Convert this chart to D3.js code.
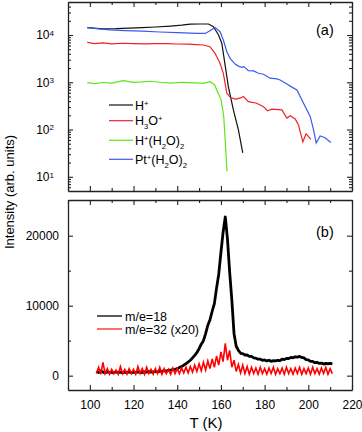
<!DOCTYPE html>
<html>
<head>
<meta charset="utf-8">
<script src="https://cdn.jsdelivr.net/npm/d3@7"></script>
<style>
  body { margin: 0; background: #fff; }
  text { font-family: "Liberation Sans", Arial, sans-serif; fill: #000; }
  .axis path, .axis line { stroke: #222; }
</style>
</head>
<body>
<script>
const w = 362;
const h = 432;

// panel (a): ion yields, log scale
const tH = [98.8, 106, 112, 118, 124, 130, 137, 142, 146, 150, 154.3, 156.6, 158.9, 160.4, 161.9, 163.4, 165.7, 168, 170];
const vH = [14300, 13500, 13600, 14000, 14400, 14800, 15500, 16200, 17000, 17100, 17100, 15000, 10000, 6700, 2330, 810, 260, 98, 32];

const tH3O = [98.8, 102, 106, 110, 115, 120, 125, 130, 135, 140, 145, 149, 152, 155, 157.3, 159.6, 161.1, 162.7, 164.2, 166.5, 168.8, 170.3, 172.6, 176.4, 179.5, 181.3, 183.3, 187.9, 190.2, 191.7, 194, 195.5, 197.5, 199, 201.2];
const vH3O = [7000, 6550, 6800, 6500, 6700, 6600, 6500, 6600, 6550, 6450, 6400, 6240, 6150, 5650, 4100, 2520, 1550, 590, 480, 440, 460, 500, 390, 360, 305, 250, 270, 260, 175, 195, 167, 125, 55, 81, 62];

const tHW = [98.8, 102, 106, 110, 115.3, 120, 124, 127.6, 132, 137, 142, 148, 152, 155, 157, 158.5, 160.1, 161.3, 162.8];
const vHW = [980, 940, 990, 960, 1080, 1000, 1020, 1050, 1000, 960, 1000, 970, 950, 1030, 900, 620, 425, 187, 13];

const tPt = [98.8, 104, 109, 116, 124, 132, 140, 149, 152.8, 155, 157.3, 159.6, 161.1, 162.7, 164.2, 166.5, 168, 169.6, 170.5, 172.6, 174.9, 177.2, 179.5, 182.5, 185.6, 187.1, 190.2, 192.5, 194.8, 197.8, 200.9, 202.4, 203.6, 205.4, 207.7, 210.3];
const vPt = [14300, 13500, 12800, 12400, 12150, 11600, 11200, 10800, 10800, 12300, 14500, 11750, 7840, 4440, 3210, 2430, 2200, 2070, 2140, 1760, 1740, 1550, 1480, 1220, 1180, 1120, 920, 790, 690, 360, 187, 98, 52, 73, 67, 53];

// panel (b): mass spec traces, one sample per K from 103 to 211
const tB = d3.range(103, 212);
const v18 = [600, 450, 700, 500, 400, 550, 450, 500, 400, 550, 450, 500, 400, 500, 450, 550, 400, 500, 450, 550,
  500, 450, 550, 500, 600, 500, 550, 600, 550, 650, 600, 700, 650, 750, 800, 850, 900, 1000, 1150, 1300,
  1500, 1700, 1950, 2200, 2550, 2900, 3300, 3850, 4500, 5000, 6000, 7200, 8000, 9200, 10300, 12500, 14500, 17600, 20500, 22700,
  19500, 14800, 10800, 6000, 4200, 3600, 3200, 3150, 2950, 2950, 2750, 2750, 2550, 2500, 2350, 2350, 2200, 2250, 2100, 2200,
  2050, 2150, 2100, 2200, 2150, 2350, 2300, 2450, 2450, 2600, 2550, 2700, 2650, 2750, 2600, 2550, 2300, 2250, 2050, 2050,
  1850, 1900, 1750, 1800, 1650, 1750, 1700, 1750, 1700];
const v32 = [300, 1200, 200, 1900, 300, 1000, 200, 900, 300, 800, 200, 1300, 300, 900, 200, 1000, 300, 900, 200, 1300,
  300, 1000, 200, 1200, 300, 900, 200, 1000, 300, 1200, 200, 1000, 300, 900, 200, 1100, 300, 1000, 300, 1100,
  400, 1200, 400, 1300, 500, 1500, 600, 1700, 700, 1900, 800, 2100, 1000, 2400, 1200, 2800, 1500, 3400, 2000, 4600,
  2200, 3600, 1200, 2200, 600, 1600, 400, 1500, 300, 1300, 200, 1200, 300, 1100, 200, 1200, 300, 1000, 200, 1100,
  300, 1200, 200, 1000, 300, 1100, 200, 1200, 300, 1000, 200, 1100, 300, 1200, 200, 1000, 300, 1100, 200, 1200,
  300, 1000, 200, 1100, 300, 1200, 200, 1000, 300];

const xTicks = [100, 120, 140, 160, 180, 200, 220];
const yTicksB = [0, 10000, 20000];

const svg = d3.select("body")
    .append("svg")
    .attr("width", w)
    .attr("height", h);

const left = 68, right = 352;
const aTop = 2, aBottom = 191;
const bTop = 200, bBottom = 390;

const xScale = d3.scaleLinear().domain([90, 220]).range([left, right]);
const yA = d3.scaleLog().domain([5, 50000]).range([aBottom, aTop]);
const yB = d3.scaleLinear().domain([-2050, 25100]).range([bBottom, bTop]);

const xMinor = d3.range(90, 221, 10).filter(d => d % 20 !== 0);
const logMajor = [10, 100, 1000, 10000];
const logMinor = [];
[1, 10, 100, 1000, 10000].forEach(p => {
    for (let k = 2; k < 10; k++) {
        const v = p * k;
        if (v > 5 && v < 50000) logMinor.push(v);
    }
});

function drawAxis(axis, transform) {
    const g = svg.append("g")
        .attr("class", "axis")
        .attr("transform", transform)
        .call(axis);
    g.select(".domain").attr("stroke-width", 1.3);
    g.selectAll(".tick line").attr("stroke-width", 1.1);
    g.selectAll("text").attr("font-size", 12).style("font-family", "Liberation Sans, Arial, sans-serif");
    return g;
}

function frameX(y0, y1, labels) {
    drawAxis(d3.axisBottom(xScale).tickValues(xTicks).tickSize(-5).tickSizeOuter(0).tickPadding(10)
        .tickFormat(labels ? d3.format("d") : ""), "translate(0," + y1 + ")");
    drawAxis(d3.axisBottom(xScale).tickValues(xMinor).tickSize(-3).tickSizeOuter(0).tickFormat(""), "translate(0," + y1 + ")")
        .select(".domain").remove();
    drawAxis(d3.axisTop(xScale).tickValues(xTicks).tickSize(-5).tickSizeOuter(0).tickFormat(""), "translate(0," + y0 + ")");
    drawAxis(d3.axisTop(xScale).tickValues(xMinor).tickSize(-3).tickSizeOuter(0).tickFormat(""), "translate(0," + y0 + ")")
        .select(".domain").remove();
}

// ---- panel (a)
frameX(aTop, aBottom, false);
const ga = drawAxis(d3.axisLeft(yA).tickValues(logMajor).tickSize(-5).tickSizeOuter(0).tickFormat(""), "translate(" + left + ",0)");
ga.selectAll(".tick").append("text")
    .attr("x", -14).attr("dy", "0.32em")
    .attr("text-anchor", "end")
    .attr("font-size", 12)
    .text("10")
    .append("tspan")
    .attr("dy", "-0.45em")
    .attr("font-size", 8)
    .text(d => Math.round(Math.log10(d)));
drawAxis(d3.axisLeft(yA).tickValues(logMinor).tickSize(-3).tickFormat(""), "translate(" + left + ",0)").select(".domain").remove();
drawAxis(d3.axisRight(yA).tickValues(logMajor).tickSize(-5).tickSizeOuter(0).tickFormat(""), "translate(" + right + ",0)");
drawAxis(d3.axisRight(yA).tickValues(logMinor).tickSize(-3).tickFormat(""), "translate(" + right + ",0)").select(".domain").remove();

const seriesA = [
    { t: tH, v: vH, color: "#111111", label: [["H", 0], ["+", -1]] },
    { t: tH3O, v: vH3O, color: "#f0202a", label: [["H", 0], ["3", 1], ["O", 0], ["+", -1]] },
    { t: tHW, v: vHW, color: "#5ee51e", label: [["H", 0], ["+", -1], ["(H", 0], ["2", 1], ["O)", 0], ["2", 1]] },
    { t: tPt, v: vPt, color: "#3a5af0", label: [["Pt", 0], ["+", -1], ["(H", 0], ["2", 1], ["O)", 0], ["2", 1]] }
];

const lineA = d3.line().x(d => xScale(d[0])).y(d => yA(d[1]));
seriesA.forEach(s => {
    svg.append("path")
        .datum(s.t.map((t, i) => [t, s.v[i]]))
        .attr("fill", "none")
        .attr("stroke", s.color)
        .attr("stroke-width", 1.2)
        .attr("d", lineA);
});

function richText(x, y, parts, size) {
    const t = svg.append("text").attr("x", x).attr("y", y).attr("font-size", size);
    let shift = 0;
    parts.forEach(p => {
        const target = p[1] * 0.3 * size;
        t.append("tspan")
            .attr("dy", target - shift)
            .attr("font-size", p[1] === 0 ? size : size * 0.62)
            .text(p[0]);
        shift = target;
    });
}

const legA = [105, 120.7, 140.3, 159.3];
seriesA.forEach((s, i) => {
    svg.append("line")
        .attr("x1", 109).attr("x2", 133)
        .attr("y1", legA[i]).attr("y2", legA[i])
        .attr("stroke", s.color).attr("stroke-width", 1.2);
    richText(135, legA[i] + 4.5, s.label, 12.5);
});

svg.append("text").attr("x", 316).attr("y", 35).attr("font-size", 14.5).text("(a)");

// ---- panel (b)
frameX(bTop, bBottom, true);
drawAxis(d3.axisLeft(yB).tickValues(yTicksB).tickSize(-5).tickSizeOuter(0).tickPadding(9).tickFormat(d3.format("d")), "translate(" + left + ",0)");
drawAxis(d3.axisLeft(yB).tickValues([5000, 15000]).tickSize(-3).tickFormat(""), "translate(" + left + ",0)").select(".domain").remove();
drawAxis(d3.axisRight(yB).tickValues(yTicksB).tickSize(-5).tickSizeOuter(0).tickFormat(""), "translate(" + right + ",0)");
drawAxis(d3.axisRight(yB).tickValues([5000, 15000]).tickSize(-3).tickFormat(""), "translate(" + right + ",0)").select(".domain").remove();

const lineB = d3.line().x(d => xScale(d[0])).y(d => yB(d[1]));
svg.append("path")
    .datum(tB.map((t, i) => [t, v18[i]]))
    .attr("fill", "none")
    .attr("stroke", "#000")
    .attr("stroke-width", 2.8)
    .attr("stroke-linejoin", "round")
    .attr("d", lineB);
svg.append("path")
    .datum(tB.map((t, i) => [t, v32[i]]))
    .attr("fill", "none")
    .attr("stroke", "#ff0000")
    .attr("stroke-width", 1.6)
    .attr("d", lineB);

const legB = [
    { color: "#000", text: "m/e=18", y: 316 },
    { color: "#ff2020", text: "m/e=32 (x20)", y: 329 }
];
legB.forEach(l => {
    svg.append("line")
        .attr("x1", 97).attr("x2", 122)
        .attr("y1", l.y).attr("y2", l.y)
        .attr("stroke", l.color).attr("stroke-width", 1.3);
    svg.append("text").attr("x", 125).attr("y", l.y + 4.5).attr("font-size", 12.5).text(l.text);
});

svg.append("text").attr("x", 316).attr("y", 237).attr("font-size", 14.5).text("(b)");

// axis titles
svg.append("text")
    .attr("transform", "translate(14,192) rotate(-90)")
    .attr("text-anchor", "middle")
    .attr("font-size", 13)
    .text("Intensity  (arb. units)");
svg.append("text")
    .attr("x", 206).attr("y", 428)
    .attr("text-anchor", "middle")
    .attr("font-size", 15)
    .text("T  (K)");
</script>
</body>
</html>
